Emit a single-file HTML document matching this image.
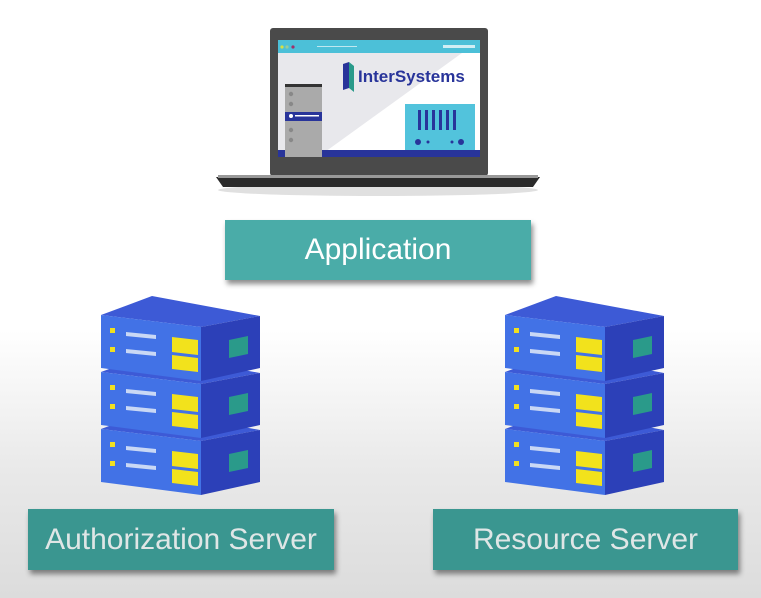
<!DOCTYPE html>
<html><head><meta charset="utf-8"><style>
html,body{margin:0;padding:0}
body{width:761px;height:598px;overflow:hidden;position:relative;
background:linear-gradient(#fff 0,#fff 330px,#e9e9e9 470px,#dcdcdc 598px);
font-family:"Liberation Sans",sans-serif}
.lbl{position:absolute;display:flex;align-items:center;justify-content:center;
box-shadow:2px 4px 5px rgba(0,0,0,.45);font-size:30px;}
</style></head><body>
<svg width="761" height="598" style="position:absolute;left:0;top:0">
<defs>
<g id="unit">
  <polygon points="101,315 152,296 260,316 201,327" fill="#3d5ad6"/>
  <polygon points="101,315 201,327 201,381 101,368" fill="#4272e6"/>
  <polygon points="201,327 260,316 260,368 201,381" fill="#2c40b8"/>
  <rect x="110" y="328" width="5" height="5" fill="#f0e020"/>
  <rect x="110" y="347" width="5" height="5" fill="#f0e020"/>
  <polygon points="126,332 156,335 156,339 126,336" fill="#c9d8f5"/>
  <polygon points="126,349 156,352 156,356 126,353" fill="#c9d8f5"/>
  <polygon points="172,337 198,340 198,355 172,352" fill="#f2e21c"/>
  <polygon points="172,355 198,358 198,372 172,369" fill="#f2e21c"/>
  <polygon points="229,340 248,336 248,354 229,358" fill="#2a9a8a"/>
</g>
<g id="stack">
  <polygon points="101,380 201,393 260,382 260,420 201,435 101,420" fill="#1f2a95"/>
  <polygon points="101,437 201,450 260,439 260,475 201,490 101,477" fill="#1f2a95"/>
  <use href="#unit" transform="translate(0,114)"/>
  <use href="#unit" transform="translate(0,57)"/>
  <use href="#unit"/>
</g>
</defs>
<ellipse cx="378" cy="190" rx="160" ry="6" fill="#ccc" opacity=".6"/>
<rect x="270" y="28" width="218" height="148" rx="3" fill="#4a4a4a"/>
<rect x="278" y="40" width="202" height="117" fill="#fff"/>
<polygon points="278,40 480,40 318,157 278,157" fill="#e8e8ec"/>
<rect x="278" y="40" width="202" height="13" fill="#4cc0d8"/>
<circle cx="282" cy="47" r="1.6" fill="#d8e040"/><circle cx="287" cy="47" r="1.6" fill="#9c9"/><circle cx="293" cy="47" r="1.6" fill="#a0306a"/>
<rect x="443" y="45" width="32" height="3" fill="#d0eef4"/>
<rect x="317" y="46" width="40" height="1" fill="#bfe8f0"/>
<rect x="278" y="150" width="202" height="7" fill="#28349a"/>
<rect x="285" y="84" width="37" height="73" fill="#aaa"/>
<rect x="285" y="84" width="37" height="3" fill="#333"/>
<rect x="285" y="112" width="37" height="9" fill="#28349a"/>
<circle cx="291" cy="116" r="2" fill="#fff"/><rect x="295" y="115" width="24" height="1.5" fill="#fff"/>
<circle cx="291" cy="94" r="2.2" fill="#888"/><circle cx="291" cy="104" r="2.2" fill="#888"/><circle cx="291" cy="130" r="2.2" fill="#888"/><circle cx="291" cy="140" r="2.2" fill="#888"/>
<rect x="405" y="104" width="70" height="46" fill="#52c3dc"/>
<g fill="#28349a"><rect x="418" y="110" width="3" height="20"/><rect x="425" y="110" width="3" height="20"/><rect x="432" y="110" width="3" height="20"/><rect x="439" y="110" width="3" height="20"/><rect x="446" y="110" width="3" height="20"/><rect x="453" y="110" width="3" height="20"/>
<circle cx="418" cy="142" r="3"/><circle cx="428" cy="142" r="1.5"/><circle cx="452" cy="142" r="1.5"/><circle cx="461" cy="142" r="3"/></g>
<polygon points="343,64 349,62 349,88 343,90" fill="#28349a"/><polygon points="349,62 354,66 354,92 349,88" fill="#2a9a8a"/>
<text x="358" y="82" font-size="17" font-weight="bold" fill="#28349a" font-family="Liberation Sans,sans-serif">InterSystems</text>
<polygon points="216,177 540,177 533,187 223,187" fill="#2a2a2a"/>
<rect x="218" y="175" width="320" height="3" fill="#999"/>
<use href="#stack"/>
<use href="#stack" transform="translate(404,0)"/>
</svg>
<div class="lbl" style="left:225px;top:220px;width:306px;height:60px;background:#4aaca8;color:#fff">Application</div>
<div class="lbl" style="left:28px;top:509px;width:306px;height:61px;background:#3a9690;color:#dfe6e6">Authorization Server</div>
<div class="lbl" style="left:433px;top:509px;width:305px;height:61px;background:#3a9690;color:#dfe6e6">Resource Server</div>
</body></html>
